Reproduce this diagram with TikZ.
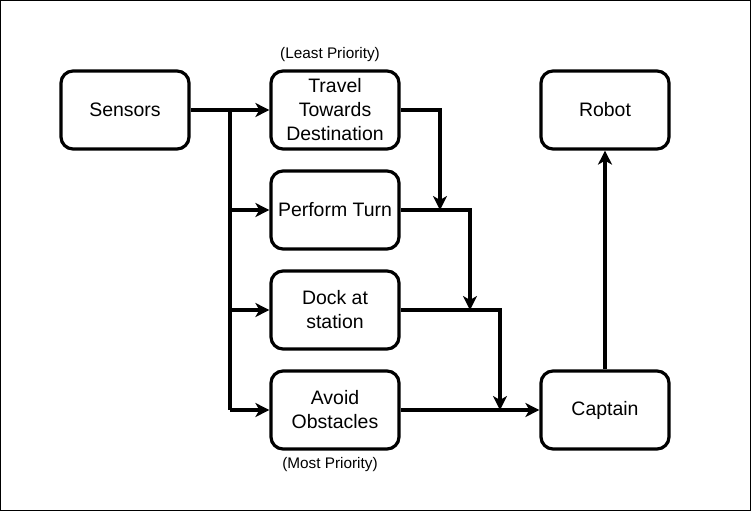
\documentclass[tikz,border=0pt]{standalone}
\usepackage{fontspec}
\setmainfont{Liberation Sans}
\usetikzlibrary{arrows.meta}
\begin{document}
\begin{tikzpicture}[x=0.75pt,y=-0.75pt,
  box/.style={draw, line width=2.4pt, rounded corners=9pt, minimum width=96pt, minimum height=58.5pt, align=center, inner sep=1pt, font=\fontsize{14.6pt}{18pt}\selectfont},
  note/.style={font=\fontsize{11.5pt}{14pt}\selectfont, inner sep=0pt},
  conn/.style={line width=2.4pt, -{Stealth[length=10.5pt,width=10.5pt,inset=3pt]}},
  plain/.style={line width=2.4pt}]
\useasboundingbox (0,0) rectangle (751,511);
\draw[line width=0.9pt] (0.6,0.6) rectangle (750.4,510.4);
\node[box] (sen) at (125,110) {Sensors};
\node[box] (trav) at (335,110) {Travel\\Towards\\Destination};
\node[box] (turn) at (335,210) {Perform Turn};
\node[box] (dock) at (335,310) {Dock at\\station};
\node[box] (avoid) at (335,410) {Avoid\\Obstacles};
\node[box] (robot) at (605,110) {Robot};
\node[box] (capt) at (605,410) {Captain};
\node[note] (least) at (330,55) {(Least Priority)};
\node[note] (most) at (330,465) {(Most Priority)};
\coordinate (j1) at (230,110);
\coordinate (j2) at (230,210);
\coordinate (j3) at (230,310);
\coordinate (j4) at (230,410);
\coordinate (a1) at (440,110);
\coordinate (m1) at (440,210);
\coordinate (a2) at (470,210);
\coordinate (m2) at (470,310);
\coordinate (a3) at (500,310);
\coordinate (m3) at (500,410);
\draw[plain] (sen.east) -- (j1) -- (j4);
\draw[conn] (j1) -- (trav.west);
\draw[conn] (j2) -- (turn.west);
\draw[conn] (j3) -- (dock.west);
\draw[conn] (j4) -- (avoid.west);
\draw[conn] (trav.east) -- (a1) -- (m1);
\draw[conn] (turn.east) -- (a2) -- (m2);
\draw[conn] (dock.east) -- (a3) -- (m3);
\draw[conn] (avoid.east) -- (capt.west);
\draw[conn] (capt.north) -- (robot.south);
\end{tikzpicture}
\end{document}
